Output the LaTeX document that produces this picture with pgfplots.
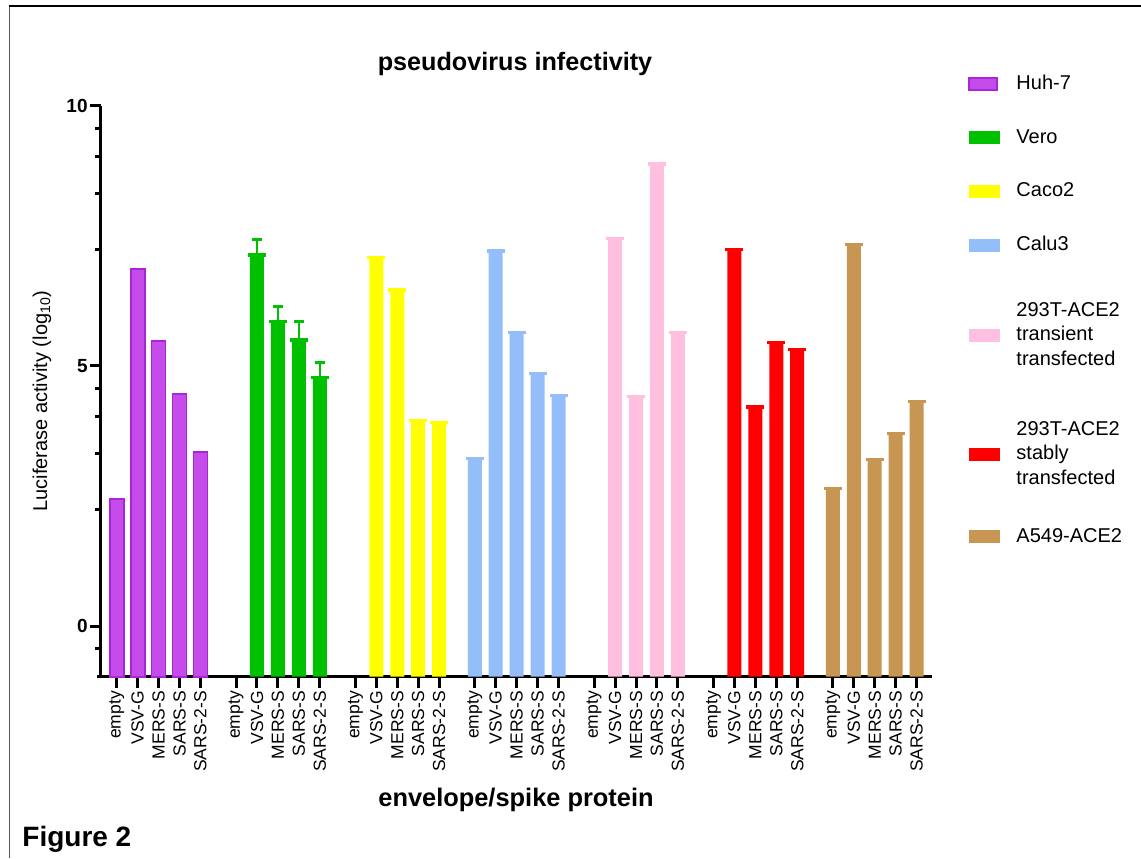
\documentclass[border=0pt]{standalone}
\usepackage{fontspec}
\setmainfont{Liberation Sans}
\usepackage{pgfplots}
\pgfplotsset{compat=1.18}

\definecolor{huhfill}{RGB}{198,75,235}
\definecolor{huhdraw}{RGB}{168,38,214}
\definecolor{vero}{RGB}{0,192,0}
\definecolor{caco}{RGB}{255,255,0}
\definecolor{calu}{RGB}{148,190,250}
\definecolor{transient}{RGB}{255,192,224}
\definecolor{stable}{RGB}{255,0,0}
\definecolor{aceA}{RGB}{198,150,82}

\pgfplotsset{
  legbox/.style={legend image code/.code={\draw[##1] (0pt,-3pt) rectangle (14pt,3pt); \path (21pt,0pt);}},
  legfill/.style={legend image code/.code={\fill[#1] (0pt,-3pt) rectangle (15pt,3pt); \path (21pt,0pt);}},
  bars/.style={ybar, bar width=7pt, bar shift=0pt, forget plot, draw=none, fill=#1,
    mark=-, mark size=4.5pt, mark options={draw=#1, line width=1.6pt}},
}

\begin{document}
\begin{tikzpicture}
\useasboundingbox (0,0) rectangle (570.5pt,429pt);
% frame of the figure panel
\draw[line width=0.8pt, black!65] (4.65pt,0pt) -- (4.65pt,426pt);
\draw[line width=1.2pt] (4.25pt,426pt) -- (570.5pt,426pt);

\begin{axis}[
  at={(50.5pt,90.65pt)}, anchor=south west,
  scale only axis, width=415.25pt, height=285.5pt,
  clip=false,
  xmin=-0.75, xmax=38.93,
  ymin=-0.97, ymax=10,
  % bars start at the bottom of the axis, as in Prism
  y coord trafo/.code={\pgfmathparse{#1+0.97}},
  y coord inv trafo/.code={\pgfmathparse{#1-0.97}},
  axis lines=left,
  axis line style={-, line width=1.5pt},
  x axis line style={shorten <=-2pt},
  tick align=outside,
  tick style={line width=1.5pt, black},
  major tick length=5.5pt, minor tick length=3pt,
  ytick={0,5,10}, yticklabels={\textbf{0},\textbf{5},\textbf{10}},
  minor ytick={-0.431,2.236,3.314,4.031,4.569,7.236,8.314,9.031,9.569},
  yticklabel style={font=\fontsize{9.5}{11}\selectfont, inner sep=1pt},
  xtick={0,1,2,3,4, 5.703,6.703,7.703,8.703,9.703, 11.406,12.406,13.406,14.406,15.406,
         17.109,18.109,19.109,20.109,21.109, 22.812,23.812,24.812,25.812,26.812,
         28.515,29.515,30.515,31.515,32.515, 34.218,35.218,36.218,37.218,38.218},
  xticklabels={empty,VSV-G,MERS-S,SARS-S,SARS-2-S, empty,VSV-G,MERS-S,SARS-S,SARS-2-S,
               empty,VSV-G,MERS-S,SARS-S,SARS-2-S, empty,VSV-G,MERS-S,SARS-S,SARS-2-S,
               empty,VSV-G,MERS-S,SARS-S,SARS-2-S, empty,VSV-G,MERS-S,SARS-S,SARS-2-S,
               empty,VSV-G,MERS-S,SARS-S,SARS-2-S},
  xticklabel style={rotate=90, anchor=east, inner sep=1.5pt, font=\fontsize{8.75}{10}\selectfont},
  legend style={at={(1.044,1.061)}, anchor=north west, draw=none, fill=none,
    inner sep=0pt, row sep=14.3pt, font=\fontsize{10}{12.25}\selectfont,
    cells={anchor=west, align=left}},
]

\addlegendimage{legbox, fill=huhfill, draw=huhdraw, line width=1pt}
\addlegendentry{Huh-7}
\addlegendimage{legfill=vero}
\addlegendentry{Vero}
\addlegendimage{legfill=caco}
\addlegendentry{Caco2}
\addlegendimage{legfill=calu}
\addlegendentry{Calu3}
\addlegendimage{legfill=transient}
\addlegendentry[minimum height=49pt]{293T-ACE2\\transient\\transfected}
\addlegendimage{legfill=stable}
\addlegendentry[minimum height=41.3pt]{293T-ACE2\\stably\\transfected}
\addlegendimage{legfill=aceA}
\addlegendentry{A549-ACE2}

% Huh-7 (outlined bars, no cap)
\addplot[ybar, bar width=7pt, bar shift=0pt, forget plot, fill=huhfill, draw=huhdraw, line width=0.9pt]
  coordinates {(0,2.45) (1,6.86) (2,5.48) (3,4.46) (4,3.35)};

% Vero
\addplot[bars=vero] coordinates {(6.703,7.13) (7.703,5.85) (8.703,5.50) (9.703,4.78)};
\addplot[vero, line width=1.1pt, forget plot] coordinates {(6.703,7.13) (6.703,7.42)};
\addplot[vero, line width=1.1pt, forget plot] coordinates {(7.703,5.85) (7.703,6.15)};
\addplot[vero, line width=1.1pt, forget plot] coordinates {(8.703,5.50) (8.703,5.86)};
\addplot[vero, line width=1.1pt, forget plot] coordinates {(9.703,4.78) (9.703,5.06)};
\addplot[only marks, forget plot, mark=-, mark size=2.5pt, mark options={draw=vero, line width=1.5pt}]
  coordinates {(6.703,7.42) (7.703,6.15) (8.703,5.86) (9.703,5.06)};

% Caco2
\addplot[bars=caco] coordinates {(12.406,7.09) (13.406,6.46) (14.406,3.95) (15.406,3.91)};

% Calu3
\addplot[bars=calu] coordinates {(17.109,3.22) (18.109,7.21) (19.109,5.65) (20.109,4.86) (21.109,4.44)};

% 293T-ACE2 transient
\addplot[bars=transient] coordinates {(23.812,7.45) (24.812,4.41) (25.812,8.88) (26.812,5.64)};

% 293T-ACE2 stable
\addplot[bars=stable] coordinates {(29.515,7.24) (30.515,4.21) (31.515,5.45) (32.515,5.32)};

% A549-ACE2
\addplot[bars=aceA] coordinates {(34.218,2.65) (35.218,7.34) (36.218,3.21) (37.218,3.71) (38.218,4.32)};

\end{axis}

\node[font=\fontsize{12.6}{15}\selectfont\bfseries, anchor=base] at (257.5pt,393.5pt) {pseudovirus infectivity};
\node[font=\fontsize{12.7}{15}\selectfont\bfseries, anchor=base] at (258pt,26pt) {envelope/spike protein};
\node[font=\fontsize{10}{12}\selectfont, rotate=90] at (21pt,228.5pt) {Luciferase activity (log\textsubscript{10})};
\node[font=\fontsize{14}{17}\selectfont\bfseries, anchor=base west, inner sep=0pt] at (11pt,6pt) {Figure 2};
\end{tikzpicture}
\end{document}
